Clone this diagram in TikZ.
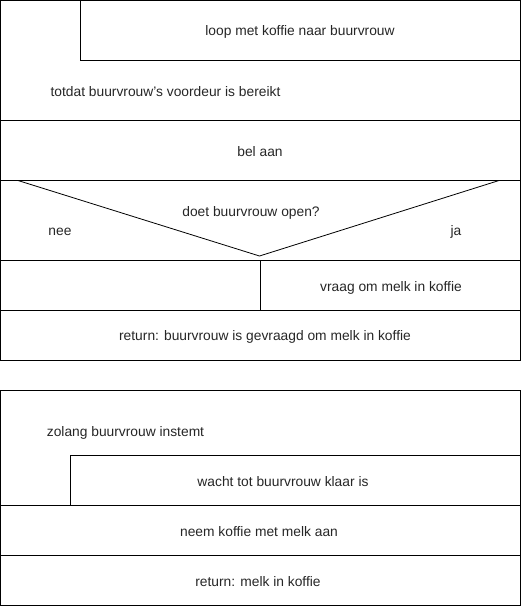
\documentclass[tikz,border=0pt]{standalone}
\usepackage{fontspec}
\setmainfont{Liberation Sans}
\begin{document}
\begin{tikzpicture}[x=1pt,y=-1pt,
  line/.style={draw=black,line width=1pt},
  lbl/.style={inner sep=0pt,yshift=-1.5pt,font=\fontsize{13.8}{16}\selectfont,text=black!85}]
\useasboundingbox (0,0) rectangle (521,606);
% --- structogram 1: walk to the neighbour ---
\draw[line] (0.5,0.5) rectangle (520.5,360.5);
\draw[line] (80.5,0.5) rectangle (520.5,60.5);
\draw[line] (0.5,120.5) -- (520.5,120.5);
\draw[line] (0.5,180.5) -- (520.5,180.5);
\draw[line] (0.5,260.5) -- (520.5,260.5);
\draw[line] (0.5,310.5) -- (520.5,310.5);
% decision triangle
\coordinate (tl) at (18,180.5);
\coordinate (tip) at (259.5,256);
\coordinate (tr) at (499,180.5);
\draw[line,line width=0.8pt] (tl) -- (tip) -- (tr);
\draw[line] (260.5,260.5) -- (260.5,310.5);
\node[lbl] (loop) at (300,30) {loop met koffie naar buurvrouw};
\node[lbl] (until) at (165.5,90) {totdat buurvrouw's voordeur is bereikt};
\node[lbl] (bel) at (260,150) {bel aan};
\node[lbl] (cond) at (251,211.5) {doet buurvrouw open?};
\node[lbl] (nee) at (60,230) {nee};
\node[lbl] (ja) at (456,230) {ja};
\node[lbl] (vraag) at (391,286) {vraag om melk in koffie};
\node[lbl] (ret1) at (265,335.5) {return: buurvrouw is gevraagd om melk in koffie};
% --- structogram 2: wait for the milk ---
\draw[line] (0.5,390.5) rectangle (520.5,605.5);
\draw[line] (70.5,455.5) rectangle (520.5,505.5);
\draw[line] (0.5,505.5) -- (520.5,505.5);
\draw[line] (0.5,555.5) -- (520.5,555.5);
\node[lbl] (zolang) at (125.5,431) {zolang buurvrouw instemt};
\node[lbl] (wacht) at (283,480) {wacht tot buurvrouw klaar is};
\node[lbl] (neem) at (259,530) {neem koffie met melk aan};
\node[lbl] (ret2) at (258,580) {return: melk in koffie};
\end{tikzpicture}
\end{document}
